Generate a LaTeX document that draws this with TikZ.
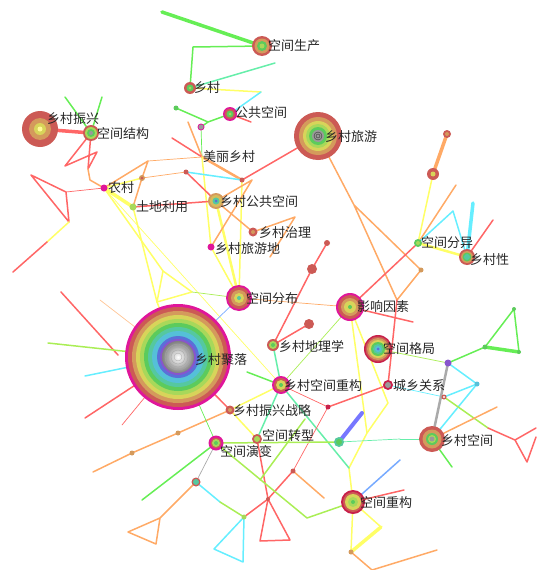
\documentclass[tikz,border=0pt]{standalone}
\usepackage{fontspec}
\newfontfamily\cjk{Noto Sans CJK SC}
\definecolor{eg}{HTML}{66EE55}
\definecolor{el}{HTML}{AAEE55}
\definecolor{et}{HTML}{66EEAA}
\definecolor{ec}{HTML}{66EEFF}
\definecolor{ey}{HTML}{FFFF66}
\definecolor{eo}{HTML}{FFAA66}
\definecolor{er}{HTML}{FF6666}
\definecolor{eb}{HTML}{7777FF}
\definecolor{elb}{HTML}{77AAFF}
\definecolor{egr}{HTML}{AAAAAA}
\definecolor{rR}{HTML}{CC5A55}
\definecolor{rO}{HTML}{D49A5C}
\definecolor{rY}{HTML}{D8D45A}
\definecolor{rL}{HTML}{A8D85A}
\definecolor{rG}{HTML}{5CCB5C}
\definecolor{rT}{HTML}{55C8A0}
\definecolor{rC}{HTML}{55C0D8}
\definecolor{rB}{HTML}{5A70D8}
\definecolor{rP}{HTML}{8855CC}
\definecolor{rGy}{HTML}{9A9A9A}
\definecolor{rM}{HTML}{E0169A}
\definecolor{rCr}{HTML}{C8204A}
\newcommand{\cring}[2]{\foreach \rr/\cc in {#2}{\fill[fill=\cc] (#1) circle[radius=\rr pt];}}
\tikzset{
  ed/.style={line width=1.5pt},
  thn/.style={line width=0.7pt},
  thk/.style={line width=3.5pt},
  lab/.style={anchor=west, inner sep=0pt, font=\cjk\fontsize{13}{13}\selectfont, text=black!85}
}
\begin{document}
\begin{tikzpicture}[x=1pt,y=-1pt]
\useasboundingbox (0,0) rectangle (536,570);
% main nodes
\coordinate (kjsc) at (262,46);
\coordinate (xc) at (190,88);
\coordinate (ggkj) at (230,114);
\coordinate (xclv) at (318,136);
\coordinate (xczx) at (40,129);
\coordinate (kjjg) at (91,133);
\coordinate (mlxc) at (202,157);
\coordinate (nc) at (104,188);
\coordinate (tdly) at (133,207);
\coordinate (xcgg) at (216,201);
\coordinate (xczl) at (253,232);
\coordinate (xclyd) at (211,247);
\coordinate (kjfy) at (418,243);
\coordinate (xcx) at (467,257);
\coordinate (kjfb) at (239,298);
\coordinate (yxys) at (350,307);
\coordinate (xcdl) at (273,345);
\coordinate (kjgj) at (378,349);
\coordinate (xcjl) at (178,357);
\coordinate (xccg) at (281,385);
\coordinate (cxgx) at (388,385);
\coordinate (zxzl) at (230,410);
\coordinate (kjzx) at (257,439);
\coordinate (kjyb) at (216,443);
\coordinate (xckj) at (432,439);
\coordinate (kjcg) at (353,502);
% minor points
\coordinate (a1) at (162,12);
\coordinate (a2) at (193,47);
\coordinate (a3) at (275,63);
\coordinate (a4) at (261,92);
\coordinate (a5) at (176,108);
\coordinate (a6) at (208,122);
\coordinate (a7) at (201,127);
\coordinate (a8) at (251,122);
\coordinate (a9) at (188,122);
\coordinate (a10) at (172,138);
\coordinate (a11) at (65,97);
\coordinate (a12) at (102,97);
\coordinate (b1) at (65,166);
\coordinate (b2) at (97,152);
\coordinate (b3) at (88,169);
\coordinate (b4) at (90,180);
\coordinate (b5) at (31,175);
\coordinate (b6) at (66,192);
\coordinate (b7) at (69,222);
\coordinate (b8) at (47,242);
\coordinate (b9) at (13,272);
\coordinate (b10) at (148,161);
\coordinate (b11) at (142,178);
\coordinate (b12) at (186,172);
\coordinate (b13) at (242,180);
\coordinate (b14) at (252,180);
\coordinate (c1) at (163,271);
\coordinate (c2) at (157,302);
\coordinate (c3) at (192,292);
\coordinate (c4) at (295,217);
\coordinate (c5) at (270,257);
\coordinate (d1) at (354,205);
\coordinate (d2) at (421,270);
\coordinate (d4) at (397,300);
\coordinate (d5) at (447,134);
\coordinate (d6) at (433,174);
\coordinate (d7) at (456,185);
\coordinate (d8) at (453,211);
\coordinate (d9) at (473,203);
\coordinate (d10) at (493,220);
\coordinate (e1) at (327,243);
\coordinate (e2) at (312,269);
\coordinate (e3) at (309,324);
\coordinate (e4) at (413,322);
\coordinate (f1) at (388,403);
\coordinate (f2) at (367,433);
\coordinate (f3) at (349,468);
\coordinate (f5) at (362,413);
\coordinate (g1) at (339,442);
\coordinate (g2) at (400,439);
\coordinate (g3) at (328,407);
\coordinate (g4) at (293,471);
\coordinate (g5) at (268,499);
\coordinate (g6) at (244,517);
\coordinate (g7) at (260,541);
\coordinate (g8) at (290,540);
\coordinate (g9) at (324,498);
\coordinate (g10) at (307,518);
\coordinate (h1) at (400,460);
\coordinate (h2) at (404,490);
\coordinate (h3) at (381,527);
\coordinate (h4) at (351,552);
\coordinate (h5) at (372,570);
\coordinate (h6) at (437,550);
\coordinate (i1) at (448,363);
\coordinate (i2) at (485,347);
\coordinate (i3) at (514,309);
\coordinate (i4) at (519,352);
\coordinate (i5) at (477,384);
\coordinate (i6) at (444,397);
\coordinate (i7) at (488,428);
\coordinate (i8) at (515,440);
\coordinate (i9) at (527,462);
\coordinate (i10) at (536,428);
\coordinate (i13) at (536,437);
\coordinate (i11) at (497,407);
\coordinate (i12) at (452,467);
\coordinate (j1) at (178,433);
\coordinate (j2) at (132,453);
\coordinate (j3) at (93,472);
\coordinate (k1) at (142,500);
\coordinate (k2) at (196,482);
\coordinate (k3) at (160,518);
\coordinate (k4) at (128,532);
\coordinate (k5) at (156,544);
\coordinate (k6) at (220,502);
\coordinate (k7) at (214,549);
\coordinate (k8) at (243,562);
\coordinate (l1) at (61,292);
\coordinate (l2) at (118,355);
\coordinate (l3) at (100,300);
\coordinate (l4) at (135,327);
\coordinate (l5) at (48,343);
\coordinate (l6) at (85,376);
\coordinate (l7) at (85,418);
\coordinate (l8) at (122,425);
\coordinate (m1) at (247,372);
\coordinate (n1) at (305,419);
\coordinate (n2) at (260,480);
% ---------------- edges
\begin{scope}[line cap=round, line join=round]
% top
\draw[eg, thk] (a1) -- (kjsc);
\draw[eg, ed] (kjsc) -- (a2) -- (xc);
\draw[et, ed] (xc) -- (a3);
\draw[ey, ed] (xc) -- (a4);
\draw[ec, ed] (a4) -- (ggkj);
\draw[eg, ed] (a5) -- (a6) -- (ggkj);
\draw[eg, ed] (a6) -- (a7);
\draw[er, ed] (ggkj) -- (a8);
\draw[eg, thn] (a7) -- (mlxc);
\draw[eo, ed] (a9) -- (mlxc);
\draw[er, ed] (a10) -- (mlxc);
\draw[eo, line width=2.5pt] (mlxc) -- (b13);
\draw[er, ed] (xclv) -- (b13);
\draw[ey, ed] (mlxc) -- (xclyd) -- (kjfb);
\draw[ey, ed] (b13) -- (kjfb);
\draw[ey, line width=2.5pt] (xcgg) -- (kjfb);
\draw[eo, ed] (xcgg) -- (b14) -- (xclyd);
\draw[eo, ed] (xcgg) -- (xczl) -- (c4) -- (c5);
% left top
\draw[er, thk] (xczx) -- (kjjg);
\draw[eg, ed] (kjjg) -- (a11);
\draw[eg, ed] (kjjg) -- (a12);
\draw[er, ed] (kjjg) -- (b1) -- (b2) -- (b3) -- cycle;
\draw[eo, ed] (b3) -- (b4) -- (nc);
\draw[er, ed] (b5) -- (b6) -- (b7) -- cycle;
\draw[er, thn] (b6) -- (nc);
\draw[ey, ed] (b7) -- (b8);
\draw[er, ed] (b8) -- (b9);
\draw[ey, thk] (nc) -- (tdly);
\draw[eo, ed] (nc) -- (b10) -- (b11) -- (tdly);
\draw[eo, thn] (b10) -- (mlxc);
\draw[ey, ed] (nc) -- (b11);
\draw[eo, thn] (b11) -- (b12);
\draw[ec, ed] (b12) -- (b13);
\draw[er, ed] (b12) -- (xcgg);
\draw[er, ed] (tdly) -- (xcgg);
\draw[ey, ed] (nc) -- (c1);
\draw[ey, ed] (tdly) -- (c2);
\draw[ey, ed] (c1) -- (c2) -- (c3) -- cycle;
\draw[ey, thn] (nc) -- (xccg);
\draw[el, thn] (c3) -- (kjfb);
\draw[ey, ed] (c2) -- (xcjl);
% right top
\draw[eo, ed] (xclv) -- (d1) -- (d2) -- (d4) -- (d1);
\draw[eo, thk] (d5) -- (d6);
\draw[ey, ed] (d6) -- (kjfy);
\draw[eo, ed] (kjfy) -- (d7);
\draw[ec, ed] (kjfy) -- (d8) -- (xcx);
\draw[ec, thk] (xcx) -- (d9);
\draw[er, ed] (xcx) -- (d10);
\draw[ey, line width=2.5pt] (kjfy) -- (xcx);
\draw[er, ed] (kjfy) -- (yxys);
% middle
\draw[er, ed] (e1) -- (e2) -- (xcdl);
\draw[er, ed] (xcdl) -- (e3);
\draw[eo, thn] (kjfb) -- (yxys);
\draw[er, ed] (yxys) -- (e4);
\draw[er, ed] (d4) -- (cxgx);
\draw[el, thn] (yxys) -- (xccg);
\draw[et, ed] (xcdl) -- (xccg);
\draw[eg, ed] (m1) -- (xccg);
\draw[elb, thn] (xcjl) -- (kjfb);
\draw[ey, ed] (yxys) -- (f1) -- (f2) -- (f3) -- (kjcg);
\draw[ey, ed] (yxys) -- (f2);
\draw[eb, line width=4pt] (g1) -- (f5);
\draw[et, ed] (xccg) -- (f3);
\draw[et, ed] (xccg) -- (kjzx);
\draw[ey, ed] (xccg) -- (zxzl) -- (kjzx);
\draw[er, ed] (xcjl) -- (zxzl);
\draw[eo, ed] (zxzl) -- (j1) -- (j2) -- (j3);
\draw[er, thn] (xccg) -- (g3);
\draw[er, ed] (g3) -- (cxgx);
\draw[er, thn] (g3) -- (g4);
\draw[er, ed] (g4) -- (g5) -- (g6);
\draw[er, ed] (kjzx) -- (g5);
\draw[er, ed] (g5) -- (g7) -- (g8) -- cycle;
\draw[eo, ed] (g4) -- (g9);
\draw[el, ed] (n1) -- (n2);
% bottom left
\draw[eg, thn] (xcjl) -- (kjyb);
\draw[egr, thn] (kjyb) -- (k2);
\draw[eg, ed] (kjyb) -- (k1);
\draw[el, ed] (kjyb) -- (g10) -- (kjcg);
\draw[el, ed] (kjyb) -- (g1);
\draw[et, thn] (g1) -- (g2);
\draw[et, thn] (g2) -- (xckj);
\draw[eo, ed] (k2) -- (k3) -- (k4) -- (k5) -- (k3);
\draw[ec, ed] (k2) -- (k6);
\draw[el, ed] (k6) -- (g6);
\draw[ec, ed] (g6) -- (k7) -- (k8) -- cycle;
% left of xcjl
\draw[er, ed] (l1) -- (l2);
\draw[eo!70, thn] (l3) -- (l4);
\draw[el, ed] (l5) -- (xcjl);
\draw[ec, ed] (l6) -- (xcjl);
\draw[er, ed] (l7) -- (xcjl);
\draw[er, thn] (l8) -- (xcjl);
% right bottom
\draw[el, thn] (kjgj) -- (i1);
\draw[eg, ed] (i1) -- (i2);
\draw[eg, ed] (i2) -- (i3) -- (i4);
\draw[eg, thk] (i2) -- (i4);
\draw[ec, ed] (i1) -- (i5) -- (i6);
\draw[ec, ed] (i5) -- (xckj);
\draw[ec, thn] (cxgx) -- (i6);
\draw[egr, line width=2.5pt] (i1) -- (xckj);
\draw[el, ed] (i6) -- (i7);
\draw[er, ed] (i7) -- (i8) -- (i9) -- (i13);
\draw[er, ed] (i8) -- (i10);
\draw[eo, ed] (xckj) -- (i11);
\draw[eg, ed] (xckj) -- (i12);
\draw[elb, ed] (kjcg) -- (h1);
\draw[er, ed] (kjcg) -- (h2);
\draw[ey, ed] (kjcg) -- (h3);
\draw[ey, thk] (h3) -- (h4);
\draw[ey, ed] (kjcg) -- (h4);
\draw[eo, ed] (h4) -- (h5) -- (h6);
\end{scope}
% ---------------- rings
\cring{xcjl}{53/rM,50/rR,46/rO,42/rY,38/rL,34/rG,30/rT,26/rC,21/rB,18/rP}
\shade[inner color=white, outer color=gray] (xcjl) circle[radius=16pt];
\foreach \q in {4,7,10,13} \draw[gray!70, line width=0.3pt] (xcjl) circle[radius=\q pt];
\cring{xclv}{24/rR,19/rO,15/rY,12/rL,9/rG,6/rGy}
\foreach \q in {2,4} \draw[gray!40!black, line width=0.4pt] (xclv) circle[radius=\q pt];
\cring{xczx}{18/rR,11/rO,6/rY,2.5/yellow!40}
\cring{kjsc}{10/rR,7.5/rO,5/rG,2.5/rL}
\cring{xc}{6/rR,3.5/rG,1.5/rL}
\cring{ggkj}{7/rM,5.5/rR,3.5/rG,1.5/rL}
\cring{kjjg}{8/rR,6/rL,4/rG,2/rGy}
\cring{xcgg}{8/rO,6/rY!60!rO,3.5/rT,1.5/rB}
\cring{xczl}{4.5/rR,2/rO}
\cring{nc}{3.5/rM}
\cring{tdly}{3.5/rL}
\cring{xclyd}{3.5/rM}
\cring{kjfb}{13/rM,11/rR,8/rO,5/rY,2/rT}
\cring{yxys}{14/rM,12/rR,9/rO,6/rY,2/rG}
\cring{xcdl}{6/rR,4/rL,2/rG}
\cring{kjgj}{14/rCr,12.5/rR,11/rO,9/rY,7/rG,5/rT,3/rC,1.5/rB}
\cring{xccg}{9/rM,7/rR,5/rY,2/rG}
\cring{cxgx}{5/rCr,3/rGy}
\cring{zxzl}{4.5/rR,2/rO}
\cring{kjzx}{5/rR,3/rL}
\cring{kjyb}{7.5/rM,5.5/rR,4/rL,2/rG}
\cring{xckj}{13/rR,9.5/rO,6/rG,4/rL,2.5/rGy}
\cring{kjcg}{12/rCr,10/rR,8/rY,5/rL,2/rG}
\cring{kjfy}{4/rG,2/rL}
\cring{xcx}{8/rR,6/rO,4.5/rG,3/rT}
\cring{d5}{4/rR,2/rO}
\cring{d6}{6/rR,2.5/rY}
\cring{e1}{3/rR}
\cring{e2}{5/rR}
\cring{e3}{5/rR}
\cring{g1}{5/rT,3/rG}
\cring{k2}{4.5/rR,3/rT}
\cring{i1}{3.5/rP}
\cring{i5}{2.5/rC}
\cring{i6}{2.5/rR,1.2/white}
\cring{a7}{3.5/rM,2.5/rGy}
\cring{b12}{2.5/rR}
\cring{b11}{3/rO,1.5/rR}
\cring{b13}{2.5/rR}
\cring{d2}{2.5/rO}
\cring{h4}{2.5/rO}
\cring{j1}{2.5/rO}
\cring{j2}{2.5/rO}
\cring{g3}{2.5/rCr}
\cring{g4}{2.5/rR}
\cring{g5}{2/rR}
\cring{g6}{2.5/rL}
\cring{a5}{2.5/rG}
\cring{i2}{2.5/rG}
\cring{i3}{2/rG}
\cring{i4}{2/rG}
% ---------------- labels
\node[lab] (t1) at (268,46) {空间生产};
\node[lab] (t2) at (194,88) {乡村};
\node[lab] (t3) at (235,113) {公共空间};
\node[lab] (t4) at (325,137) {乡村旅游};
\node[lab] (t5) at (47,119) {乡村振兴};
\node[lab] (t6) at (97,134) {空间结构};
\node[lab] (t7) at (203,157) {美丽乡村};
\node[lab] (t8) at (108,188) {农村};
\node[lab] (t9) at (136,207) {土地利用};
\node[lab] (t10) at (220,202) {乡村公共空间};
\node[lab] (t11) at (259,233) {乡村治理};
\node[lab] (t12) at (215,249) {乡村旅游地};
\node[lab] (t13) at (421,243) {空间分异};
\node[lab] (t14) at (470,260) {乡村性};
\node[lab] (t15) at (246,299) {空间分布};
\node[lab] (t16) at (357,307) {影响因素};
\node[lab] (t17) at (279,346) {乡村地理学};
\node[lab] (t18) at (383,349) {空间格局};
\node[lab] (t19) at (195,360) {乡村聚落};
\node[lab] (t20) at (284,386) {乡村空间重构};
\node[lab] (t21) at (393,386) {城乡关系};
\node[lab] (t22) at (233,411) {乡村振兴战略};
\node[lab] (t23) at (262,436) {空间转型};
\node[lab] (t24) at (220,452) {空间演变};
\node[lab] (t25) at (441,441) {乡村空间};
\node[lab] (t26) at (360,503) {空间重构};
\end{tikzpicture}
\end{document}
